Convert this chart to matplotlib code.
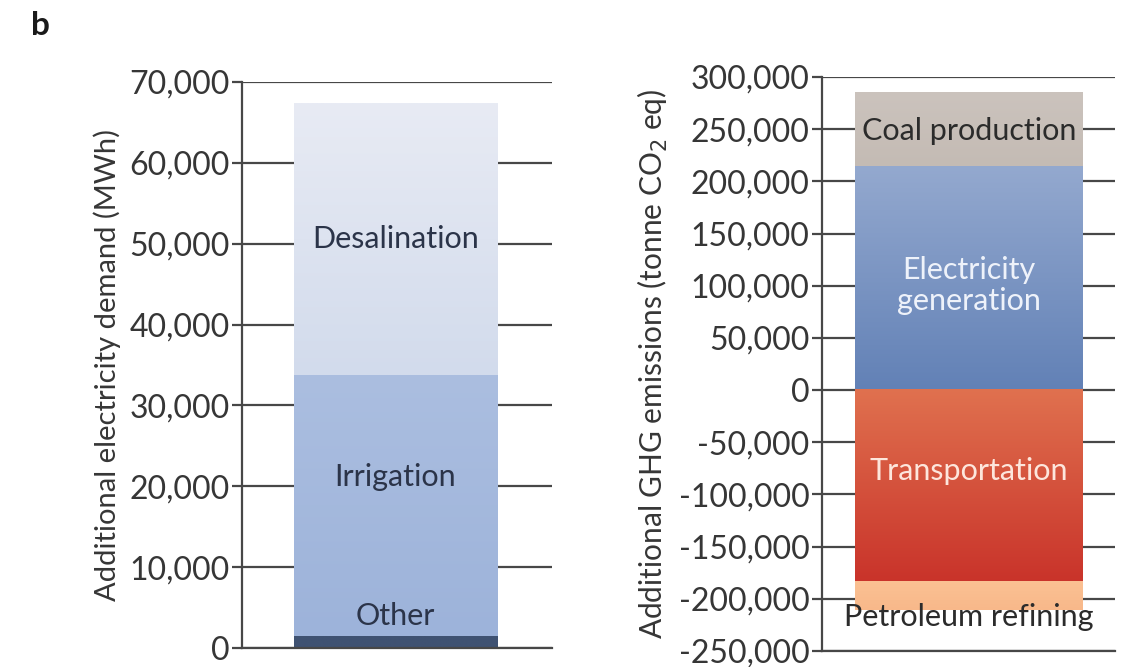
# Stacked bars: extra electricity demand and the resulting GHG emissions by source

import numpy as np
import matplotlib.pyplot as plt
from matplotlib.colors import LinearSegmentedColormap
from matplotlib.ticker import FuncFormatter

plt.rcParams['font.family'] = ['Lato', 'DejaVu Sans']

# electricity demand (MWh), stacked bottom to top
demand_labels = ['Other', 'Irrigation', 'Desalination']
demand_values = [1500, 32300, 33600]

# emissions (tonne CO2 eq); positives stack up from zero, negatives down
pos_labels = ['Electricity\ngeneration', 'Coal production']
pos_values = [215000, 70000]
neg_labels = ['Transportation', 'Petroleum refining']
neg_values = [-184000, -27000]

demand_ticks = list(range(0, 70001, 10000))
ghg_ticks = list(range(-250000, 300001, 50000))

GRID = '#474747'
TEXT = '#363636'


def gradient_fill(ax, patch, top_color, bottom_color):
    x0, y0 = patch.get_x(), patch.get_y()
    w, h = patch.get_width(), patch.get_height()
    cmap = LinearSegmentedColormap.from_list('g', [bottom_color, top_color])
    grad = np.linspace(0, 1, 256).reshape(-1, 1)
    ylo, yhi = min(y0, y0 + h), max(y0, y0 + h)
    ax.imshow(grad, cmap=cmap, origin='lower', aspect='auto',
              extent=(x0, x0 + w, ylo, yhi), zorder=2)


def style_axis(ax, ticks):
    ax.set_xlim(0, 1)
    ax.set_ylim(ticks[0], ticks[-1])
    ax.set_yticks(ticks)
    ax.yaxis.set_major_formatter(FuncFormatter(lambda v, p: f'{int(v):,}'))
    ax.set_xticks([])
    ax.spines['top'].set_visible(False)
    ax.spines['right'].set_visible(False)
    for s in ('left', 'bottom'):
        ax.spines[s].set_color(GRID)
        ax.spines[s].set_linewidth(1.6)
    ax.set_axisbelow(True)
    ax.yaxis.grid(True, color=GRID, linewidth=1.6)
    ax.tick_params(axis='y', direction='out', length=7, width=1.6, color=GRID,
                   labelsize=23, labelcolor=TEXT, pad=2)


fig = plt.figure(figsize=(11.25, 6.67), dpi=100)

# left panel: electricity demand
ax1 = fig.add_axes([0.2151, 0.0285, 0.2756, 0.8486])
style_axis(ax1, demand_ticks)
demand_colors = [('#3f5272', '#3f5272'), ('#abbee0', '#9db3da'), ('#e8ebf4', '#d2dbec')]
bottom = 0
for lab, val, (ctop, cbot) in zip(demand_labels, demand_values, demand_colors):
    bar = ax1.bar(0.495, val, width=0.655, bottom=bottom, color=cbot, zorder=2)[0]
    gradient_fill(ax1, bar, ctop, cbot)
    bottom += val
ax1.set_xlim(0, 1)
ax1.set_ylim(0, 70000)

label_kw = dict(ha='center', va='center', fontsize=22, zorder=5)
ax1.text(0.495, 50600, 'Desalination', color='#2b3449', **label_kw)
ax1.text(0.495, 21200, 'Irrigation', color='#2b3449', **label_kw)
ax1.text(0.495, 3900, 'Other', color='#2b3449', **label_kw)
ax1.set_ylabel('Additional electricity demand (MWh)', fontsize=21, color=TEXT, labelpad=6)

# right panel: GHG emissions
ax2 = fig.add_axes([0.7307, 0.024, 0.2604, 0.8606])
style_axis(ax2, ghg_ticks)
pos_colors = [('#94a9cf', '#6281b6'), ('#cbc3bd', '#c4bbb4')]
neg_colors = [('#e0714f', '#c9332a'), ('#fbc193', '#f8b88a')]
bottom = 0
for val, (ctop, cbot) in zip(pos_values, pos_colors):
    bar = ax2.bar(0.502, val, width=0.778, bottom=bottom, color=cbot, zorder=2)[0]
    gradient_fill(ax2, bar, ctop, cbot)
    bottom += val
bottom = 0
for val, (ctop, cbot) in zip(neg_values, neg_colors):
    bar = ax2.bar(0.502, val, width=0.778, bottom=bottom, color=cbot, zorder=2)[0]
    gradient_fill(ax2, bar, ctop, cbot)
    bottom += val
ax2.set_xlim(0, 1)
ax2.set_ylim(-250000, 300000)

ax2.text(0.502, 248000, pos_labels[1], color='#2b2b2b', **label_kw)
ax2.text(0.502, 100000, pos_labels[0], color='#eef2fa', linespacing=1.15, **label_kw)
ax2.text(0.502, -78000, neg_labels[0], color='#fde6dc', **label_kw)
ax2.text(0.502, -217000, neg_labels[1], color='#2b2b2b', **label_kw)
ax2.set_ylabel('Additional GHG emissions (tonne CO$_2$ eq)', fontsize=21.5, color=TEXT, labelpad=6)

fig.text(0.036, 0.962, 'b', fontsize=24, fontweight='bold', ha='center', va='center', color='#1a1a1a')

fig.savefig('out.png', dpi=100)
